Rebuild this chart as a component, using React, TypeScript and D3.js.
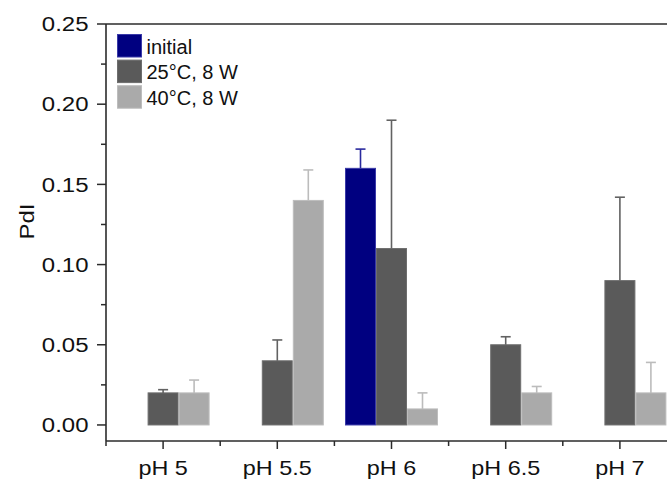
import React from 'react'
import * as d3 from 'd3'

// values
const categories = ['pH 5', 'pH 5.5', 'pH 6', 'pH 6.5', 'pH 7']
const seriesNames = ['initial', '25°C, 8 W', '40°C, 8 W']
const initialVals = [null, null, 0.16, null, null]
const initialErr = [null, null, 0.012, null, null]
const t25Vals = [0.02, 0.04, 0.11, 0.05, 0.09]
const t25Err = [0.002, 0.013, 0.08, 0.005, 0.052]
const t40Vals = [0.02, 0.14, 0.01, 0.02, 0.02]
const t40Err = [0.008, 0.019, 0.01, 0.004, 0.019]
const yMajorTicks = [0, 0.05, 0.1, 0.15, 0.2, 0.25]
const yMinorTicks = [0.025, 0.075, 0.125, 0.175, 0.225]

const fills = ['#000080', '#5a5a5a', '#aaaaaa']
const edges = ['#3a3aa8', '#6e6e6e', '#bdbdbd']
const errColors = ['#2a2a9e', '#626262', '#bcbcbc']

const W = 667
const H = 479
const left = 106
const top = 24
const right = 677
const bottom = 441
const FONT = '"Liberation Sans", Arial, sans-serif'
const STRETCH = 1.17

type Num = number | null

const series: { vals: Num[]; errs: Num[] }[] = [
  { vals: initialVals, errs: initialErr },
  { vals: t25Vals, errs: t25Err },
  { vals: t40Vals, errs: t40Err },
]

export default function App() {
  const x0 = d3.scaleBand<string>().domain(categories).range([left, right]).padding(0)
  const x1 = d3
    .scaleBand<string>()
    .domain(seriesNames)
    .range([0, x0.bandwidth()])
    .paddingInner(0)
    .paddingOuter(0.342)
  const y = d3.scaleLinear().domain([-0.01, 0.25]).range([bottom, top])

  const xMinor = d3.range(categories.length + 1).map((i) => left + i * x0.step())

  return (
    <svg
      width={W}
      height={H}
      style={{ position: 'absolute', left: 0, top: 0, background: '#fff' }}
      fontFamily={FONT}
    >
      {/* bars */}
      {series.map((s, si) =>
        s.vals.map((v, ci) => {
          if (v == null) return null
          const bx = (x0(categories[ci]) as number) + (x1(seriesNames[si]) as number)
          return (
            <rect
              key={`b${si}-${ci}`}
              x={bx + 0.5}
              y={y(v)}
              width={x1.bandwidth() - 1}
              height={y(0) - y(v)}
              fill={fills[si]}
              stroke={edges[si]}
              strokeWidth={1}
            />
          )
        })
      )}
      {/* error bars (upper only) */}
      {series.map((s, si) =>
        s.vals.map((v, ci) => {
          const e = s.errs[ci]
          if (v == null || e == null) return null
          const cx = (x0(categories[ci]) as number) + (x1(seriesNames[si]) as number) + x1.bandwidth() / 2
          return (
            <g key={`e${si}-${ci}`} stroke={errColors[si]} strokeWidth={1.6}>
              <line x1={cx} x2={cx} y1={y(v)} y2={y(v + e)} />
              <line x1={cx - 5} x2={cx + 5} y1={y(v + e)} y2={y(v + e)} />
            </g>
          )
        })
      )}

      {/* frame */}
      <line x1={left} x2={right} y1={top} y2={top} stroke="#2b2b2b" strokeWidth={1.6} />
      <line x1={left} x2={left} y1={top} y2={bottom} stroke="#2b2b2b" strokeWidth={1.6} />
      <line x1={left} x2={right} y1={bottom} y2={bottom} stroke="#2b2b2b" strokeWidth={1.6} />

      {/* y ticks */}
      {yMajorTicks.map((t) => (
        <g key={`ym${t}`}>
          <line x1={left - 9} x2={left} y1={y(t)} y2={y(t)} stroke="#2b2b2b" strokeWidth={1.5} />
          <text
            transform={`translate(${left - 17.5},${y(t) + 7.3}) scale(${STRETCH},1)`}
            textAnchor="end"
            fontSize={20.5}
            fill="#111"
          >
            {d3.format('.2f')(t)}
          </text>
        </g>
      ))}
      {yMinorTicks.map((t) => (
        <line key={`yn${t}`} x1={left - 5} x2={left} y1={y(t)} y2={y(t)} stroke="#2b2b2b" strokeWidth={1.5} />
      ))}

      {/* x ticks */}
      {categories.map((c) => {
        const cx = (x0(c) as number) + x0.bandwidth() / 2
        return (
          <g key={`xm${c}`}>
            <line x1={cx} x2={cx} y1={bottom} y2={bottom + 8} stroke="#2b2b2b" strokeWidth={1.5} />
            <text
              transform={`translate(${cx},${bottom + 34}) scale(${STRETCH},1)`}
              textAnchor="middle"
              fontSize={20}
              fill="#111"
            >
              {c}
            </text>
          </g>
        )
      })}
      {xMinor.map((mx, i) => (
        <line key={`xn${i}`} x1={mx} x2={mx} y1={bottom} y2={bottom + 5} stroke="#2b2b2b" strokeWidth={1.5} />
      ))}

      {/* axis title */}
      <text
        transform={`translate(34,221.5) rotate(-90) scale(1.2,1)`}
        textAnchor="middle"
        fontSize={20}
        fill="#111"
      >
        PdI
      </text>

      {/* legend */}
      {seriesNames.map((name, i) => (
        <g key={`lg${i}`} transform={`translate(117,${34 + i * 25.6})`}>
          <rect x={0.5} y={0.5} width={24} height={22.5} fill={fills[i]} stroke={edges[i]} strokeWidth={1} />
          <text x={29.5} y={19.5} fontSize={20} fill="#111">
            {name}
          </text>
        </g>
      ))}
    </svg>
  )
}
